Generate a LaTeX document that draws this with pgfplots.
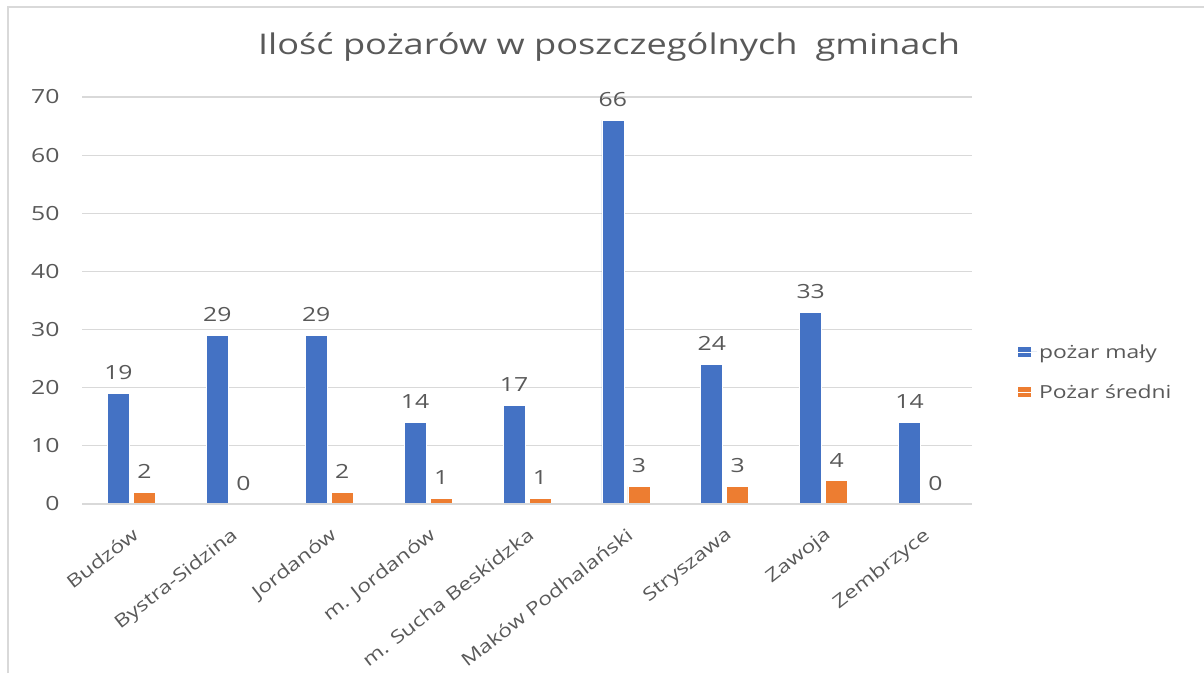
\documentclass[border=0pt]{standalone}
\usepackage{pgfplots}
\pgfplotsset{compat=1.18}
\usepackage{fontspec}
\setmainfont{Open Sans}[FakeStretch=1.27]
\definecolor{txt}{RGB}{89,89,89}
\definecolor{gridc}{RGB}{217,217,217}
\definecolor{blue1}{RGB}{68,114,196}
\definecolor{orange1}{RGB}{237,125,49}
\begin{document}
\begin{tikzpicture}[x=1pt,y=1pt]
\path[use as bounding box] (0,0) rectangle (1204,673);
\draw[gridc, line width=2pt] (8,0) -- (8,666) -- (1204,666);
\node[txt, font=\fontsize{28.5}{34}\selectfont] at (609,626) {Ilość pożarów w poszczególnych\hspace{0.3em} gminach};
\begin{axis}[
  at={(82pt,169pt)}, anchor=south west, scale only axis,
  width=890pt, height=407pt,
  ymin=0, ymax=70, xmin=-0.5, xmax=8.5,
  ytick={0,10,...,70},
  xtick={0,...,8},
  xticklabels={Budzów,Bystra-Sidzina,Jordanów,m. Jordanów,m. Sucha Beskidzka,Maków Podhalański,Stryszawa,Zawoja,Zembrzyce},
  x tick label style={rotate=38, anchor=north east, inner sep=1pt, yshift=-16.5pt, xshift=-13pt, font=\fontsize{18}{22}\selectfont},
  /pgf/number format/assume math mode=true,
  ticklabel style={text=txt},
  y tick label style={xshift=-19pt, font=\fontsize{19.5}{22}\selectfont},
  ymajorgrids, grid style={gridc, line width=1.2pt},
  axis line style={draw=none},
  major tick length=0pt,
  ybar=4pt, bar width=22pt,
  nodes near coords,
  every node near coord/.append style={font=\fontsize{19.5}{22}\selectfont, text=txt, yshift=10pt},
  legend style={at={(1.0475,0.324)}, anchor=west, draw=none, font=\fontsize{18}{22}\selectfont, text=txt, row sep=21pt},
  legend cell align=left,
  legend image code/.code={\fill[#1] (0pt,-5.5pt) rectangle (14pt,5.5pt); \path (0pt,0pt) -- (19pt,0pt);},
  clip=false,
]
\addplot[fill=blue1, draw=white, line width=0.6pt] coordinates {(0,19) (1,29) (2,29) (3,14) (4,17) (5,66) (6,24) (7,33) (8,14)};
\addplot[fill=orange1, draw=white, line width=0.6pt] coordinates {(0,2) (1,0) (2,2) (3,1) (4,1) (5,3) (6,3) (7,4) (8,0)};
\legend{pożar mały,Pożar średni}
\draw[gridc, line width=2pt] (rel axis cs:0,0) -- (rel axis cs:1,0);
\end{axis}
\end{tikzpicture}
\end{document}
